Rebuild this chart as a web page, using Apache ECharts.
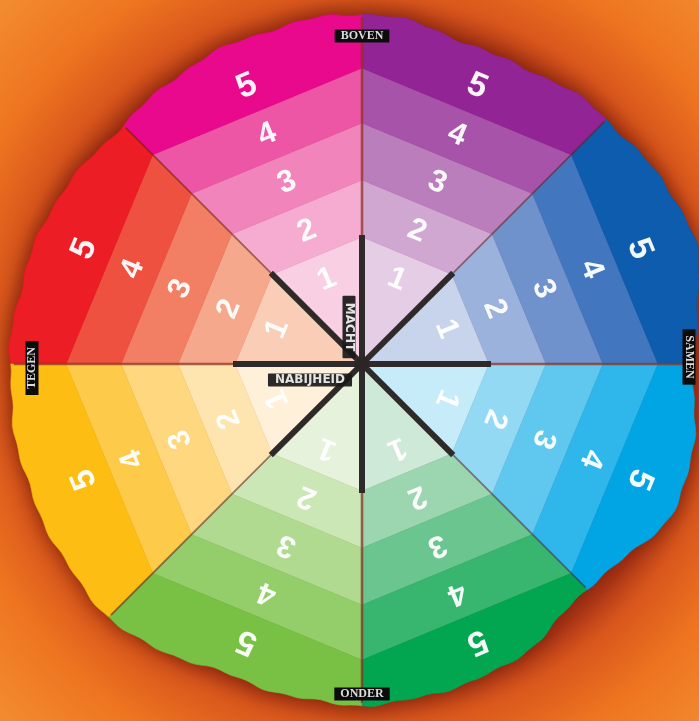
<!DOCTYPE html>
<html><head><meta charset="utf-8">
<script src="https://cdn.jsdelivr.net/npm/echarts@6/dist/echarts.min.js"></script>
<style>html,body{margin:0;padding:0;background:#f07a22}#main{width:699px;height:721px}</style>
</head><body><div id="main"></div>
<script>
// ---- data (sectors counter-clockwise from east, each 45 degrees) ----
const sectorNames = ['Samen-Boven','Boven-Samen','Boven-Tegen','Tegen-Boven','Tegen-Onder','Onder-Tegen','Onder-Samen','Samen-Onder'];
const levels = [1, 2, 3, 4, 5];
const sectorColors = [
  ['#c8d4eb','#9bb3dc','#6f91cc','#4277bf','#0d5cae'], // blue
  ['#e4cde5','#d0a7d1','#bb7ebd','#a653a9','#922495'], // purple
  ['#f8cfe3','#f5acd0','#f184bb','#ed55a5','#e9098c'], // magenta
  ['#f9cdb6','#f6a88c','#f27f63','#ef5140','#ec1d25'], // red
  ['#fff1d9','#fee4ae','#fed77e','#fdca4a','#fdbd12'], // yellow
  ['#e6f2db','#cce7b6','#b0da90','#94ce6a','#78c145'], // light green
  ['#cfe9d8','#9bd6b1','#6ac58f','#38b56f','#02a651'], // green
  ['#c6ebf9','#93d9f4','#60c7ef','#2fb6ea','#01a5e4']  // cyan
];
const directionLabels = ['BOVEN', 'SAMEN', 'ONDER', 'TEGEN'];
const axisLabels = ['MACHT', 'NABIJHEID'];

// ---- geometry (units = pixels from centre) ----
const ringR = [0, 127, 184, 241, 296];
const outlineR = [332,355,346,336,350,345,338,348,352,355,358,338,341,335,318,345];
const C = Math.cos(Math.PI / 8);
const labelDist = [0.78 * C * ringR[1], C * (ringR[1] + ringR[2]) / 2, C * (ringR[2] + ringR[3]) / 2, C * (ringR[3] + ringR[4]) / 2, C * ringR[4] + 27];
const dirLabelPos = [[0, 328, 0], [327, 7, -90], [0, -330, 0], [-330, -4, 90]];
const axisLabelPos = [[-13, 37, -90], [-52, -16, 0]];

function outerR(deg) {
  deg = ((deg % 360) + 360) % 360;
  const t = deg / 22.5, i = Math.floor(t) % 16, f = t - Math.floor(t), j = (i + 1) % 16;
  const w = (1 - Math.cos(Math.PI * f)) / 2;
  const a = deg * Math.PI / 180;
  return outlineR[i] * (1 - w) + outlineR[j] * w + 1.2 * Math.sin(a * 23) + 0.9 * Math.sin(a * 57 + 1);
}
function pt(r, deg) { const a = deg * Math.PI / 180; return [r * Math.cos(a), r * Math.sin(a)]; }

const bandData = [];
sectorNames.forEach((n, s) => levels.forEach(k => bandData.push({ name: n + ' ' + k, value: [s, k] })));
const dirData = [0, 1, 2, 3, 4, 5, 6, 7].map(i => [i * 45]);

const chart = echarts.init(document.getElementById('main'));
chart.setOption({
  backgroundColor: new echarts.graphic.RadialGradient(0.52, 0.5, 0.72, [
    { offset: 0, color: '#a03018' }, { offset: 0.66, color: '#b03818' },
    { offset: 0.72, color: '#d8561c' }, { offset: 0.84, color: '#ee7420' },
    { offset: 1, color: '#f28a30' }]),
  animation: false,
  grid: { left: 0, right: 0, top: 0, bottom: 0 },
  xAxis: { type: 'value', min: -362, max: 337, show: false },
  yAxis: { type: 'value', min: -357, max: 364, show: false },
  series: [
    { // blob with shadow
      type: 'custom', data: [[0]], silent: true,
      renderItem(params, api) {
        const pts = [];
        for (let d = 0; d < 360; d += 1) pts.push(api.coord(pt(outerR(d), d)));
        return { type: 'polygon', shape: { points: pts },
          style: { fill: '#7a2010', shadowBlur: 22, shadowColor: 'rgba(105,22,5,0.85)' } };
      }
    },
    { // bands
      type: 'custom', data: bandData,
      renderItem(params, api) {
        const s = api.value(0), k = api.value(1);
        const a0 = 45 * s, a1 = 45 * (s + 1);
        let pts;
        if (k < 5) {
          const ri = ringR[k - 1], ro = ringR[k];
          pts = [pt(ri, a0), pt(ro, a0), pt(ro, a1), pt(ri, a1)];
        } else {
          pts = [pt(ringR[4], a0)];
          for (let d = a0; d <= a1; d += 1) pts.push(pt(outerR(d), d));
          pts.push(pt(ringR[4], a1));
        }
        const col = sectorColors[s][k - 1];
        const b = a0 + 22.5;
        const p = api.coord(pt(labelDist[k - 1], b));
        return { type: 'group', children: [
          { type: 'polygon', shape: { points: pts.map(q => api.coord(q)) }, style: { fill: col, stroke: col, lineWidth: 0.6 } },
          { type: 'text', x: p[0], y: p[1], rotation: (b - 90) * Math.PI / 180,
            style: { text: String(levels[k - 1]), fill: 'rgba(255,255,255,0.95)', font: 'bold ' + (k === 5 ? 34 : 31) + 'px "Liberation Sans"', align: 'center', verticalAlign: 'middle' } }
        ] };
      }
    },
    { // separating lines
      type: 'custom', data: dirData, silent: true,
      renderItem(params, api) {
        const d = api.value(0);
        const c0 = api.coord([0, 0]);
        const pIn = api.coord(pt(129, d));
        const pOut = api.coord(pt(outerR(d) - 3, d));
        const diag = d % 90 !== 0;
        return { type: 'group', children: [
          { type: 'line', shape: { x1: pIn[0], y1: pIn[1], x2: pOut[0], y2: pOut[1] },
            style: { stroke: diag ? 'rgba(90,35,30,0.55)' : 'rgba(140,50,35,0.75)', lineWidth: diag ? 1.8 : 2.6 } },
          { type: 'line', shape: { x1: c0[0], y1: c0[1], x2: pIn[0], y2: pIn[1] },
            style: { stroke: '#2e2a2a', lineWidth: 6 } }
        ] };
      }
    },
    { // centre dot
      type: 'custom', data: [[0, 0]], silent: true,
      renderItem(params, api) {
        const c = api.coord([0, 0]);
        return { type: 'circle', shape: { cx: c[0], cy: c[1], r: 7 }, style: { fill: '#2a2626' } };
      }
    },
    { // direction labels
      type: 'custom', data: directionLabels.map((t, i) => [i]), silent: true,
      renderItem(params, api) {
        const i = api.value(0), L = dirLabelPos[i];
        const p = api.coord([L[0], L[1]]);
        return { type: 'text', x: p[0], y: p[1], rotation: L[2] * Math.PI / 180,
          style: { text: directionLabels[i], fill: '#dcdcdc', font: 'bold 12px "Liberation Serif"', align: 'center', verticalAlign: 'middle',
            backgroundColor: '#0c0c0c', padding: [1, 6, 0, 6] } };
      }
    },
    { // axis labels near centre
      type: 'custom', data: axisLabels.map((t, i) => [i]), silent: true,
      renderItem(params, api) {
        const i = api.value(0), L = axisLabelPos[i];
        const p = api.coord([L[0], L[1]]);
        return { type: 'text', x: p[0], y: p[1], rotation: L[2] * Math.PI / 180,
          style: { text: axisLabels[i], fill: '#e4e4e4', font: 'bold 12px "DejaVu Sans"', align: 'center', verticalAlign: 'middle',
            backgroundColor: 'rgba(25,25,25,0.92)', padding: [1, 7, 0, 7], borderRadius: 1 } };
      }
    }
  ]
});
</script></body></html>
